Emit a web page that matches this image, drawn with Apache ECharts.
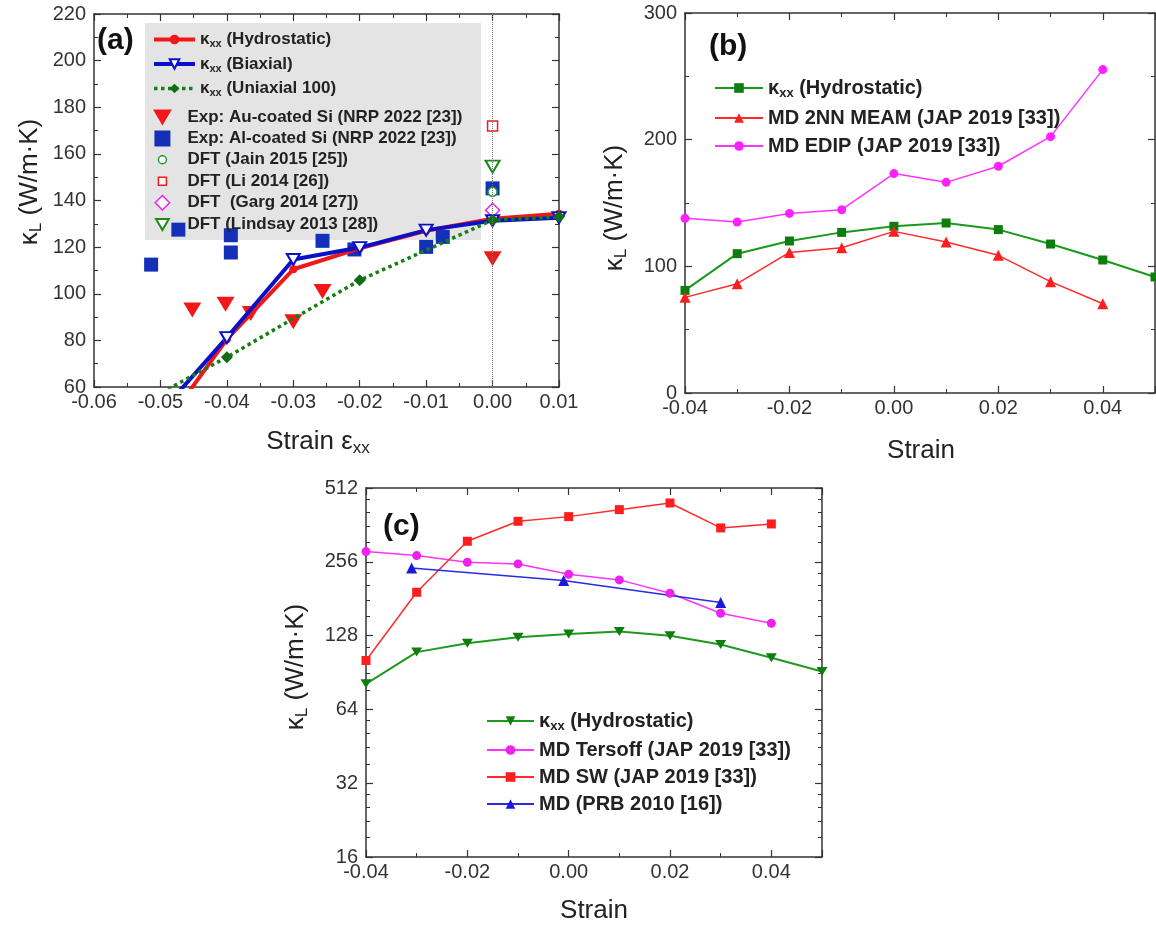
<!DOCTYPE html>
<html lang="en">
<head>
<meta charset="UTF-8">
<title>Lattice thermal conductivity vs strain</title>
<script src="https://cdn.jsdelivr.net/npm/echarts@6.0.0/dist/echarts.min.js"></script>
<style>
  html, body { margin: 0; padding: 0; background: #fff; }
  #main { width: 1156px; height: 925px; }
</style>
</head>
<body>
<div id="main"></div>
<script>
var FONT = '"Liberation Sans", Arial, Helvetica, sans-serif';
var INK = '#222';

// ---- panel (a) ----
var aHydroStrain = [-0.05, -0.04, -0.03, -0.02, -0.01, 0.00, 0.01];
var aHydro = [41, 80.5, 110.5, 119.5, 127.0, 132.2, 134.3];
var aBiaxStrain = [-0.05, -0.04, -0.03, -0.02, -0.01, 0.00, 0.01];
var aBiax = [49, 81.2, 114.7, 119.8, 127.3, 131.3, 132.6];
var aUniStrain = [-0.06, -0.04, -0.02, 0.00, 0.01];
var aUni = [42, 72.8, 105.8, 131.6, 133.0];
var auStrain = [-0.0452, -0.0402, -0.0364, -0.0300, -0.0256, 0.0000];
var auK = [93.0, 95.5, 91.5, 88.0, 101.0, 115.0];
var alStrain = [-0.0514, -0.0473, -0.0394, -0.0394, -0.0256, -0.0208, -0.0100, -0.0075, 0.0000];
var alK = [112.5, 127.5, 125.1, 117.7, 122.7, 119.0, 120.1, 124.4, 145.2];
var dftStrain = [0.0];
var jainK = [143.7];
var liK = [172.0];
var gargK = [135.8];
var lindsayK = [154.5];

// ---- panel (b) ----
var bStrain = [-0.04, -0.03, -0.02, -0.01, 0.00, 0.01, 0.02, 0.03, 0.04, 0.05];
var bHydro = [81.0, 110.0, 120.0, 126.8, 131.6, 134.2, 129.0, 117.6, 105.0, 91.6];
var bMdStrain = [-0.04, -0.03, -0.02, -0.01, 0.00, 0.01, 0.02, 0.03, 0.04];
var bMeam = [75.5, 86.3, 111.0, 114.7, 127.6, 119.2, 108.7, 87.9, 70.5];
var bEdip = [137.9, 135.0, 141.8, 144.7, 173.2, 166.3, 179.0, 202.4, 255.3];

// ---- panel (c) ----
var cStrain = [-0.04, -0.03, -0.02, -0.01, 0.00, 0.01, 0.02, 0.03, 0.04, 0.05];
var cHydro = [81.4, 109.6, 119.2, 126.0, 130.0, 133.0, 127.7, 117.7, 103.9, 91.4];
var cMdStrain = [-0.04, -0.03, -0.02, -0.01, 0.00, 0.01, 0.02, 0.03, 0.04];
var cTersoff = [281.7, 271.4, 254.9, 250.9, 227.7, 216.0, 190.6, 157.9, 143.8];
var cSw = [101.3, 192.3, 310.4, 374.5, 391.3, 417.8, 444.8, 351.9, 365.3];
var cPrbStrain = [-0.031, -0.001, 0.030];
var cPrb = [241.7, 214.6, 174.6];

// axis tick labels
var logTicks = [16, 32, 64, 128, 256, 512];

function pairs(xs, ys) {
    return xs.map(function (x, i) { return [x, ys[i]]; });
}

var DOWN_TRI = 'path://M0,0 L20,0 L10,17 Z';
var SQ = 'path://M0,0 L10,0 L10,10 L0,10 Z';
// legend icons padded so that they keep a smaller size inside the box
var ICON_SMALL_CIRCLE = 'path://M0,0 M20,20 M15,10 A5,5 0 1 1 5,10 A5,5 0 1 1 15,10 Z';
var ICON_SMALL_SQ = 'path://M0,0 M20,20 M5,5 L15,5 L15,15 L5,15 Z';
var ICON_DIAMOND = 'path://M0,0 M20,20 M10,1 L19,10 L10,19 L1,10 Z';
var ICON_TRI = 'path://M0,0 M20,20 M2,3 L18,3 L10,17 Z';

function fmtStrain(v) {
    if (Math.abs(v) < 1e-9) return '0.00';
    return v.toFixed(2);
}

function axis(o) {
    var a = {
        axisLine: {onZero: false, lineStyle: {color: '#333', width: 1.5}},
        axisTick: {inside: true, length: 7, lineStyle: {color: '#333', width: 1.2}},
        minorTick: {show: true, splitNumber: 2, length: 4, lineStyle: {color: '#333', width: 1}},
        splitLine: {show: false},
        axisLabel: {show: false}
    };
    for (var k in o) a[k] = o[k];
    return a;
}

var xLabel = {show: true, color: '#333', fontSize: 20, fontFamily: FONT, margin: 5, formatter: fmtStrain};
var xLabelNoMax = {show: true, color: '#333', fontSize: 20, fontFamily: FONT, margin: 5, formatter: fmtStrain, showMaxLabel: false};
var yLabel = {show: true, color: '#333', fontSize: 20, fontFamily: FONT, margin: 8};

var legendRich = function (size, sub, lh) {
    return {
        m: {fontSize: size, fontWeight: 'bold', fontFamily: FONT, color: INK, lineHeight: lh, verticalAlign: 'middle'},
        s: {fontSize: sub, fontWeight: 'bold', fontFamily: FONT, color: INK, lineHeight: sub, verticalAlign: 'bottom'}
    };
};

var names = {
    a_hydro: '{m|κ}{s|xx}{m| (Hydrostatic)}',
    a_biax: '{m|κ}{s|xx}{m| (Biaxial)}',
    a_uni: '{m|κ}{s|xx}{m| (Uniaxial 100)}',
    a_au: '{m|Exp: Au-coated Si (NRP 2022 [23])}',
    a_al: '{m|Exp: Al-coated Si (NRP 2022 [23])}',
    a_jain: '{m|DFT (Jain 2015 [25])}',
    a_li: '{m|DFT (Li 2014 [26])}',
    a_garg: '{m|DFT  (Garg 2014 [27])}',
    a_lindsay: '{m|DFT (Lindsay 2013 [28])}',
    b_hydro: '{m|κ}{s|xx}{m| (Hydrostatic)}',
    b_meam: '{m|MD 2NN MEAM (JAP 2019 [33])}',
    b_edip: '{m|MD EDIP (JAP 2019 [33])}',
    c_hydro: '{m|κ}{s|xx}{m| (Hydrostatic)}',
    c_tersoff: '{m|MD Tersoff (JAP 2019 [33])}',
    c_sw: '{m|MD SW (JAP 2019 [33])}',
    c_prb: '{m|MD (PRB 2010 [16])}'
};
function legendName(n) { return names[n]; }

var RED = '#f01818', BLUE = '#0a10c8', GREEN = '#138013', MAG = '#ee22ee';

var chart = echarts.init(document.getElementById('main'));
var option = {
    animation: false,
    backgroundColor: '#fff',
    grid: [
        {left: 94, top: 14, width: 465, height: 373, outerBoundsMode: 'none'},
        {left: 685, top: 13, width: 470, height: 380, outerBoundsMode: 'none'},
        {left: 366, top: 488, width: 456, height: 369, outerBoundsMode: 'none'}
    ],
    xAxis: [
        axis({type: 'value', gridIndex: 0, min: -0.06, max: 0.01, interval: 0.01, axisLabel: xLabel}),
        axis({type: 'value', gridIndex: 0, position: 'top', min: -0.06, max: 0.01, interval: 0.01}),
        axis({type: 'value', gridIndex: 1, min: -0.04, max: 0.05, interval: 0.02, axisLabel: xLabelNoMax}),
        axis({type: 'value', gridIndex: 1, position: 'top', min: -0.04, max: 0.05, interval: 0.02}),
        axis({type: 'value', gridIndex: 2, min: -0.04, max: 0.05, interval: 0.02, axisLabel: xLabelNoMax}),
        axis({type: 'value', gridIndex: 2, position: 'top', min: -0.04, max: 0.05, interval: 0.02})
    ],
    yAxis: [
        axis({type: 'value', gridIndex: 0, min: 60, max: 220, interval: 20, axisLabel: yLabel}),
        axis({type: 'value', gridIndex: 0, position: 'right', min: 60, max: 220, interval: 20}),
        axis({type: 'value', gridIndex: 1, min: 0, max: 300, interval: 100, axisLabel: yLabel}),
        axis({type: 'value', gridIndex: 1, position: 'right', min: 0, max: 300, interval: 100}),
        axis({type: 'log', logBase: 2, gridIndex: 2, min: logTicks[0], max: logTicks[logTicks.length - 1],
            minorTick: {show: true, splitNumber: 5, length: 4, lineStyle: {color: '#333', width: 1}},
            axisLabel: {show: true, color: '#333', fontSize: 20, fontFamily: FONT, margin: 8,
                formatter: function (v) { return String(Math.round(v)); }}}),
        axis({type: 'log', logBase: 2, gridIndex: 2, position: 'right', min: logTicks[0], max: logTicks[logTicks.length - 1],
            minorTick: {show: true, splitNumber: 5, length: 4, lineStyle: {color: '#333', width: 1}}})
    ],
    legend: [
        {
            data: [
                {name: 'a_hydro', lineStyle: {width: 4}},
                {name: 'a_biax', lineStyle: {width: 4}, itemStyle: {color: '#fff', borderColor: BLUE, borderWidth: 2}},
                {name: 'a_uni', lineStyle: {width: 3.5, type: 'dotted'}}
            ],
            orient: 'vertical', left: 147, top: 26, itemWidth: 41, itemHeight: 12, itemGap: 6,
            selectedMode: false, formatter: legendName,
            textStyle: {fontSize: 17, fontWeight: 'bold', fontFamily: FONT, color: INK, rich: legendRich(17, 11, 20)}
        },
        {
            data: [
                {name: 'a_au', icon: DOWN_TRI},
                {name: 'a_al', icon: SQ},
                {name: 'a_jain', icon: ICON_SMALL_CIRCLE, itemStyle: {color: '#fff', borderColor: '#1f9a2a', borderWidth: 1.5}},
                {name: 'a_li', icon: ICON_SMALL_SQ, itemStyle: {color: '#fff', borderColor: '#ee1c1c', borderWidth: 1.5}},
                {name: 'a_garg', icon: ICON_DIAMOND, itemStyle: {color: '#fff', borderColor: MAG, borderWidth: 1.5}},
                {name: 'a_lindsay', icon: ICON_TRI, itemStyle: {color: '#fff', borderColor: '#1a8c1a', borderWidth: 2}}
            ],
            orient: 'vertical', left: 148, top: 104, itemWidth: 40, itemHeight: 16, itemGap: 4,
            selectedMode: false, formatter: legendName,
            textStyle: {fontSize: 17, fontWeight: 'bold', fontFamily: FONT, color: INK, rich: legendRich(17, 11, 18)}
        },
        {
            data: ['b_hydro', 'b_meam', 'b_edip'],
            orient: 'vertical', left: 709, top: 73, itemWidth: 48, itemHeight: 12, itemGap: 8,
            selectedMode: false, formatter: legendName,
            textStyle: {fontSize: 20, fontWeight: 'bold', fontFamily: FONT, color: INK, rich: legendRich(20, 13, 24)}
        },
        {
            data: ['c_hydro', 'c_tersoff', 'c_sw', 'c_prb'],
            orient: 'vertical', left: 481, top: 706, itemWidth: 47, itemHeight: 12, itemGap: 7,
            selectedMode: false, formatter: legendName,
            textStyle: {fontSize: 20, fontWeight: 'bold', fontFamily: FONT, color: INK, rich: legendRich(20, 13, 24)}
        }
    ],
    graphic: [
        {type: 'rect', z: 0, shape: {x: 145, y: 23, width: 336, height: 217}, style: {fill: '#e4e4e4'}},
        {type: 'text', x: 97, y: 41, style: {text: '(a)', font: 'bold 30px ' + FONT, fill: '#111', align: 'left', verticalAlign: 'middle'}},
        {type: 'text', x: 709, y: 47, style: {text: '(b)', font: 'bold 30px ' + FONT, fill: '#111', align: 'left', verticalAlign: 'middle'}},
        {type: 'text', x: 383, y: 527, style: {text: '(c)', font: 'bold 30px ' + FONT, fill: '#111', align: 'left', verticalAlign: 'middle'}},
        {type: 'text', x: 318, y: 442, style: {
            text: '{m|Strain ε}{s|xx}', align: 'center', verticalAlign: 'middle',
            rich: {m: {fontSize: 26, fontFamily: FONT, fill: INK, lineHeight: 30, verticalAlign: 'middle'},
                s: {fontSize: 17, fontFamily: FONT, fill: INK, lineHeight: 17, verticalAlign: 'bottom'}}}},
        {type: 'text', x: 921, y: 451, style: {text: 'Strain', font: '26px ' + FONT, fill: INK, align: 'center', verticalAlign: 'middle'}},
        {type: 'text', x: 594, y: 911, style: {text: 'Strain', font: '26px ' + FONT, fill: INK, align: 'center', verticalAlign: 'middle'}}
    ].concat([[30, 182], [615, 208], [296, 667]].map(function (p) {
        return {type: 'text', x: p[0], y: p[1], rotation: Math.PI / 2, style: {
            text: '{m|κ}{s|L}{m| (W/m·K)}', align: 'center', verticalAlign: 'middle',
            rich: {m: {fontSize: 26, fontFamily: FONT, fill: INK, lineHeight: 30, verticalAlign: 'middle'},
                s: {fontSize: 17, fontFamily: FONT, fill: INK, lineHeight: 17, verticalAlign: 'bottom'}}}};
    })),
    series: [
        // (a)
        {name: 'a_hydro', type: 'line', xAxisIndex: 0, yAxisIndex: 0, data: pairs(aHydroStrain, aHydro),
            symbol: 'circle', symbolSize: 8, itemStyle: {color: RED}, lineStyle: {color: RED, width: 4},
            markLine: {silent: true, symbol: ['none', 'none'], label: {show: false},
                lineStyle: {color: '#777', type: 'dotted', width: 1}, data: [{xAxis: 0}]}},
        {name: 'a_biax', type: 'line', xAxisIndex: 0, yAxisIndex: 0, data: pairs(aBiaxStrain, aBiax),
            symbol: DOWN_TRI, symbolSize: [13, 11], itemStyle: {color: '#fff', borderColor: BLUE, borderWidth: 2},
            lineStyle: {color: BLUE, width: 4}},
        {name: 'a_uni', type: 'line', xAxisIndex: 0, yAxisIndex: 0, data: pairs(aUniStrain, aUni),
            symbol: 'diamond', symbolSize: 12, itemStyle: {color: '#136b13'}, lineStyle: {color: GREEN, width: 3.5, type: 'dotted'}},
        {name: 'a_au', type: 'scatter', xAxisIndex: 0, yAxisIndex: 0, data: pairs(auStrain, auK),
            symbol: DOWN_TRI, symbolSize: [18, 15], itemStyle: {color: RED, opacity: 1}},
        {name: 'a_al', type: 'scatter', xAxisIndex: 0, yAxisIndex: 0, data: pairs(alStrain, alK),
            symbol: SQ, symbolSize: 14, itemStyle: {color: '#1530b8', opacity: 1}},
        {name: 'a_jain', type: 'scatter', xAxisIndex: 0, yAxisIndex: 0, data: pairs(dftStrain, jainK),
            symbol: 'circle', symbolSize: 9, itemStyle: {color: '#fff', borderColor: '#1f9a2a', borderWidth: 1.5, opacity: 1}},
        {name: 'a_li', type: 'scatter', xAxisIndex: 0, yAxisIndex: 0, data: pairs(dftStrain, liK),
            symbol: SQ, symbolSize: 10, itemStyle: {color: '#fff', borderColor: '#ee1c1c', borderWidth: 1.5, opacity: 1}},
        {name: 'a_garg', type: 'scatter', xAxisIndex: 0, yAxisIndex: 0, data: pairs(dftStrain, gargK),
            symbol: 'diamond', symbolSize: 14, itemStyle: {color: '#fff', borderColor: MAG, borderWidth: 1.5, opacity: 1}},
        {name: 'a_lindsay', type: 'scatter', xAxisIndex: 0, yAxisIndex: 0, data: pairs(dftStrain, lindsayK),
            symbol: DOWN_TRI, symbolSize: [14, 12], itemStyle: {color: '#fff', borderColor: '#1a8c1a', borderWidth: 2, opacity: 1}},
        // (b)
        {name: 'b_hydro', type: 'line', xAxisIndex: 2, yAxisIndex: 2, data: pairs(bStrain, bHydro),
            symbol: 'rect', symbolSize: 9, itemStyle: {color: '#0e7d0e'}, lineStyle: {color: '#1a9a1a', width: 2}},
        {name: 'b_meam', type: 'line', xAxisIndex: 2, yAxisIndex: 2, data: pairs(bMdStrain, bMeam),
            symbol: 'triangle', symbolSize: 11, itemStyle: {color: '#ff1e1e'}, lineStyle: {color: '#ff2a2a', width: 1.5}},
        {name: 'b_edip', type: 'line', xAxisIndex: 2, yAxisIndex: 2, data: pairs(bMdStrain, bEdip),
            symbol: 'circle', symbolSize: 9, itemStyle: {color: '#ff22ff'}, lineStyle: {color: '#ff33ff', width: 1.5}},
        // (c)
        {name: 'c_hydro', type: 'line', xAxisIndex: 4, yAxisIndex: 4, data: pairs(cStrain, cHydro),
            symbol: DOWN_TRI, symbolSize: [11, 9], itemStyle: {color: '#0e7d0e'}, lineStyle: {color: '#1e9a1e', width: 2}},
        {name: 'c_tersoff', type: 'line', xAxisIndex: 4, yAxisIndex: 4, data: pairs(cMdStrain, cTersoff),
            symbol: 'circle', symbolSize: 9, itemStyle: {color: '#ee22ee'}, lineStyle: {color: '#ff33ff', width: 1.5}},
        {name: 'c_sw', type: 'line', xAxisIndex: 4, yAxisIndex: 4, data: pairs(cMdStrain, cSw),
            symbol: 'rect', symbolSize: 9, itemStyle: {color: '#ff1e1e'}, lineStyle: {color: '#ff2a2a', width: 1.5}},
        {name: 'c_prb', type: 'line', xAxisIndex: 4, yAxisIndex: 4, data: pairs(cPrbStrain, cPrb),
            symbol: 'triangle', symbolSize: 11, itemStyle: {color: '#1a1ad8'}, lineStyle: {color: '#2a2ae0', width: 1.5}}
    ]
};
chart.setOption(option);
</script>
</body>
</html>
